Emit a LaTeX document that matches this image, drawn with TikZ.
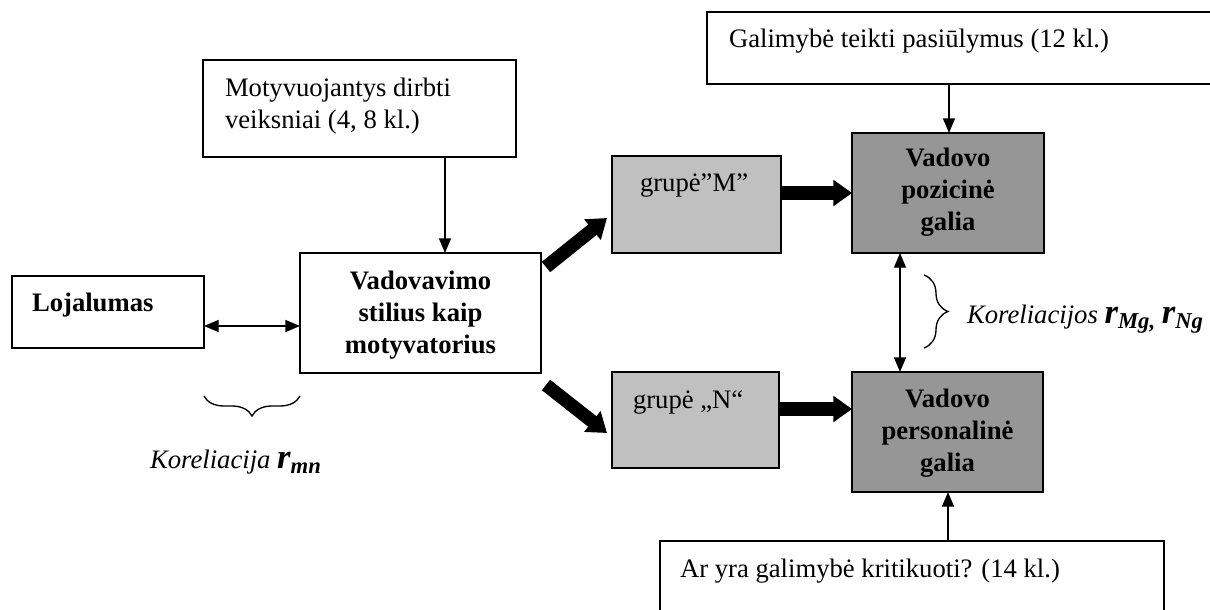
\documentclass[tikz,border=0pt]{standalone}
\usepackage{fontspec}
\setmainfont{Liberation Serif}
\usetikzlibrary{arrows.meta,decorations.pathreplacing,calc}
\newcommand\corrR{{\fontsize{26}{26}\selectfont\bfseries\itshape r}}
\newcommand\lowsub[1]{\raisebox{-0.45ex}{\fontsize{17}{17}\selectfont\bfseries\itshape #1}}
\definecolor{lightgr}{RGB}{192,192,192}
\definecolor{darkgr}{RGB}{150,150,150}
\begin{document}
\begin{tikzpicture}[x=0.75pt,y=-0.75pt,
  box/.style={draw,line width=1.3pt,inner sep=0pt,outer sep=0pt},
  txt/.style={inner sep=0pt,outer sep=0pt,font=\fontsize{20}{24}\selectfont},
  btxt/.style={inner sep=0pt,outer sep=0pt,font=\fontsize{20}{24}\selectfont\bfseries,align=center},
  thinarrow/.style={line width=1pt,-{Triangle[length=11pt,width=9pt]}},
  bothtips/.style={line width=1pt,{Triangle[length=11pt,width=9pt]}-{Triangle[length=11pt,width=9pt]}},
  fatarrow/.style={line width=10pt,-{Triangle[length=14pt,width=19pt]}},
  bracedeco/.style={decorate,decoration={brace,amplitude=#1},line width=1pt}
]
\useasboundingbox (0,0) rectangle (1210,610);
\fill[white] (0,0) rectangle (1210,610);

% boxes
\node[box,minimum width=392.25pt,minimum height=54pt] (gal) at (968.5,48) {};
\node[box,minimum width=234.75pt,minimum height=72.75pt] (mot) at (359.5,108.5) {};
\node[box,minimum width=144pt,minimum height=54pt] (loj) at (108,312) {};
\node[box,minimum width=180.75pt,minimum height=90pt] (vad) at (420.5,313) {};
\node[box,fill=lightgr,minimum width=126.75pt,minimum height=72.75pt] (grM) at (696.5,204.5) {};
\node[box,fill=darkgr,minimum width=144pt,minimum height=90pt] (poz) at (948,193) {};
\node[box,fill=lightgr,minimum width=125.25pt,minimum height=72pt] (grN) at (695.5,420) {};
\node[box,fill=darkgr,minimum width=143.25pt,minimum height=90pt] (per) at (947.5,432) {};
\node[box,minimum width=378pt,minimum height=59.25pt] (ar) at (912,580.5) {};

% texts
\node[txt,anchor=base west] (galt) at (729,48) {Galimybė teikti pasiūlymus (12 kl.)};
\node[txt,anchor=west,align=left] (mott) at (225,106) {Motyvuojantys dirbti\\veiksniai (4, 8 kl.)};
\node[txt,anchor=base west,font=\fontsize{20}{24}\selectfont\bfseries] (lojt) at (32,311) {Lojalumas};
\node[btxt] (vadt) at (420.5,315) {Vadovavimo\\stilius kaip\\motyvatorius};
\node[txt,anchor=west] (grMt) at (640,186) {grupė”M”};
\node[btxt] (pozt) at (948,192) {Vadovo\\pozicinė\\galia};
\node[txt,anchor=west] (grNt) at (633,402) {grupė „N“};
\node[btxt] (pert) at (947.5,433) {Vadovo\\personalinė\\galia};
\node[txt,anchor=base west] (art) at (680,577) {Ar yra galimybė kritikuoti? (14 kl.)};
\node[txt,anchor=base west] (kor1) at (150,468) {\itshape Koreliacija \corrR\lowsub{mn}};
\node[txt,anchor=base west] (kor2) at (967,323) {\itshape Koreliacijos \corrR\lowsub{Mg,} \corrR\lowsub{Ng}};

% helper coordinates
\coordinate (x445) at (445,0);
\coordinate (x949) at (949,0);
\coordinate (x900) at (900,0);
\coordinate (x948) at (948,0);
\coordinate (y326) at (0,326);
\coordinate (y193) at (0,193);
\coordinate (y409) at (0,409);

% connectors
\draw[thinarrow] (mot.south -| x445) -- (vad.north -| x445);
\draw[thinarrow] (gal.south -| x949) -- (poz.north -| x949);
\draw[thinarrow] (ar.north -| x948) -- (per.south -| x948);
\draw[bothtips] (loj.east |- y326) -- (vad.west |- y326);
\draw[bothtips] (poz.south -| x900) -- (per.north -| x900);
\draw[fatarrow] ($(vad.north east)+(5,14)$) -- ($(grM.west)+(-5,13.5)$);
\draw[fatarrow] ($(vad.south east)+(5,12)$) -- ($(grN.west)+(-5,13)$);
\draw[fatarrow] (grM.east |- y193) -- (poz.west |- y193);
\draw[fatarrow] (grN.east |- y409) -- (per.west |- y409);

% braces
\coordinate (b1s) at (300,396);
\coordinate (b1e) at (204,396);
\draw[bracedeco=15pt] (b1s) -- (b1e);
\coordinate (b2s) at (924,275);
\coordinate (b2e) at (924,348);
\draw[bracedeco=18pt] (b2s) -- (b2e);
\end{tikzpicture}
\end{document}
